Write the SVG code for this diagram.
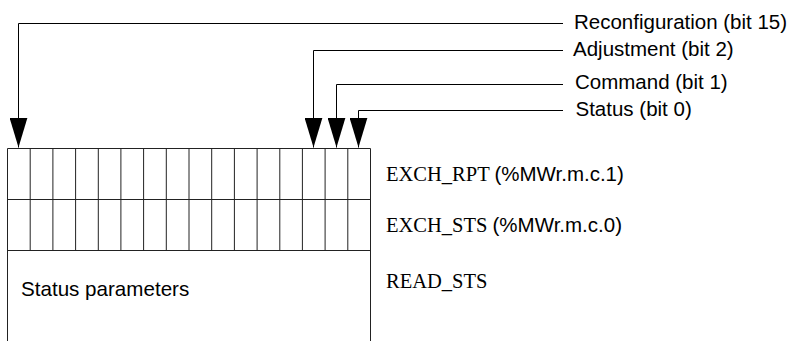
<svg xmlns="http://www.w3.org/2000/svg" width="792" height="341" viewBox="0 0 792 341">
  <style>
    .ln { fill: none; stroke: #000; stroke-width: 1; }
    .cell { fill: none; stroke: #222; stroke-width: 1; }
    .sans { font-family: "Liberation Sans", Arial, sans-serif; font-size: 20.5px; fill: #000; }
    .serif { font-family: "Liberation Serif", "Times New Roman", serif; font-size: 20.5px; fill: #000; }
  </style>
  <defs>
    <marker id="arrow" viewBox="0 0 30 18" refX="30" refY="9" markerWidth="30" markerHeight="18" markerUnits="userSpaceOnUse" orient="auto">
      <path d="M0,0 L30,9 L0,18 Z" fill="#000"/>
    </marker>
  </defs>
  <rect width="792" height="341" fill="#fff"/>

  <g id="register">
    <path class="cell" d="M7.5,341 V148.5 H370.5 V341 M7.5,199.5 H370.5 M7.5,250.5 H370.5"/>
    <path class="cell" d="M30.2,148.5 V250.5 M52.9,148.5 V250.5 M75.6,148.5 V250.5 M98.3,148.5 V250.5 M120.9,148.5 V250.5 M143.6,148.5 V250.5 M166.3,148.5 V250.5 M189,148.5 V250.5 M211.7,148.5 V250.5 M234.4,148.5 V250.5 M257.1,148.5 V250.5 M279.8,148.5 V250.5 M302.4,148.5 V250.5 M325.1,148.5 V250.5 M347.8,148.5 V250.5"/>
    <text class="sans" x="21" y="295.5" style="font-size:20.6px">Status parameters</text>
  </g>

  <g id="labels">
    <text id="lbl-exch-rpt" class="serif" x="386" y="181">EXCH_RPT <tspan class="sans">(%MWr.m.c.1)</tspan></text>
    <text id="lbl-exch-sts" class="serif" x="386" y="232">EXCH_STS <tspan class="sans">(%MWr.m.c.0)</tspan></text>
    <text id="lbl-read-sts" class="serif" x="386" y="287.5">READ_STS</text>
  </g>

  <g id="bit-labels">
    <text id="lbl-bit15" class="sans" x="574" y="28.5">Reconfiguration (bit 15)</text>
    <text id="lbl-bit2" class="sans" x="573" y="55.5">Adjustment (bit 2)</text>
    <text id="lbl-bit1" class="sans" x="575" y="89">Command (bit 1)</text>
    <text id="lbl-bit0" class="sans" x="575.5" y="115.5">Status (bit 0)</text>
  </g>

  <g id="connectors">
    <path class="ln" d="M563,23.5 H18.5 V147.5" marker-end="url(#arrow)"/>
    <path class="ln" d="M563,50.5 H313.5 V147.5" marker-end="url(#arrow)"/>
    <path class="ln" d="M563,84.5 H336.5 V147.5" marker-end="url(#arrow)"/>
    <path class="ln" d="M563,110.5 H358.5 V147.5" marker-end="url(#arrow)"/>
  </g>
</svg>
